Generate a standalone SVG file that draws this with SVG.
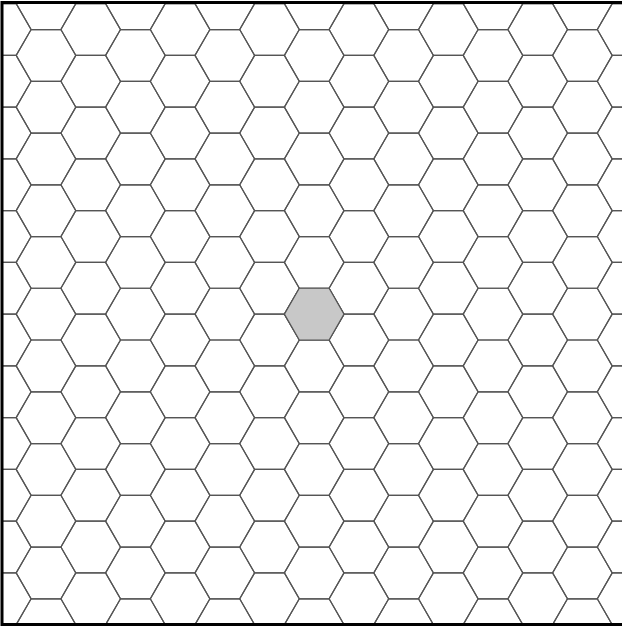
<svg xmlns="http://www.w3.org/2000/svg" xmlns:xlink="http://www.w3.org/1999/xlink" width="622" height="626" viewBox="0 0 622 626">
<style>
.hex{fill:none;stroke:#555;stroke-width:1.2;stroke-linejoin:miter}
.sel{fill:#c8c8c8;stroke:#555;stroke-width:1.2}
.frame{fill:none;stroke:#000;stroke-width:3}
</style>
<defs>
<polygon id="h" class="hex" points="-29.8,0 -14.9,-25.875 14.9,-25.875 29.8,0 14.9,25.875 -14.9,25.875"/>
<g id="colE">
<use href="#h" y="3.65"/><use href="#h" y="55.4"/><use href="#h" y="107.15"/><use href="#h" y="158.9"/><use href="#h" y="210.65"/><use href="#h" y="262.4"/><use href="#h" y="314.15"/><use href="#h" y="365.9"/><use href="#h" y="417.65"/><use href="#h" y="469.4"/><use href="#h" y="521.15"/><use href="#h" y="572.9"/><use href="#h" y="624.65"/>
</g>
<g id="colO">
<use href="#h" y="-22.225"/><use href="#h" y="29.525"/><use href="#h" y="81.275"/><use href="#h" y="133.025"/><use href="#h" y="184.775"/><use href="#h" y="236.525"/><use href="#h" y="288.275"/><use href="#h" y="340.025"/><use href="#h" y="391.775"/><use href="#h" y="443.525"/><use href="#h" y="495.275"/><use href="#h" y="547.025"/><use href="#h" y="598.775"/><use href="#h" y="650.525"/>
</g>
<clipPath id="clip"><rect x="2" y="2.5" width="630" height="622"/></clipPath>
</defs>
<rect width="622" height="626" fill="#fff"/>
<g id="grid" clip-path="url(#clip)">
<use href="#colO" x="1.3"/>
<use href="#colE" x="46.0"/>
<use href="#colO" x="90.7"/>
<use href="#colE" x="135.4"/>
<use href="#colO" x="180.1"/>
<use href="#colE" x="224.8"/>
<use href="#colO" x="269.5"/>
<use href="#colE" x="314.2"/>
<use href="#colO" x="358.9"/>
<use href="#colE" x="403.6"/>
<use href="#colO" x="448.3"/>
<use href="#colE" x="493.0"/>
<use href="#colO" x="537.7"/>
<use href="#colE" x="582.4"/>
<use href="#colO" x="627.1"/>
<g id="selected"><polygon class="sel" transform="translate(314.2,314.15)" points="-29.8,0 -14.9,-25.875 14.9,-25.875 29.8,0 14.9,25.875 -14.9,25.875"/></g>
</g>
<rect id="frame" class="frame" x="2" y="2.5" width="630" height="622"/>
</svg>
